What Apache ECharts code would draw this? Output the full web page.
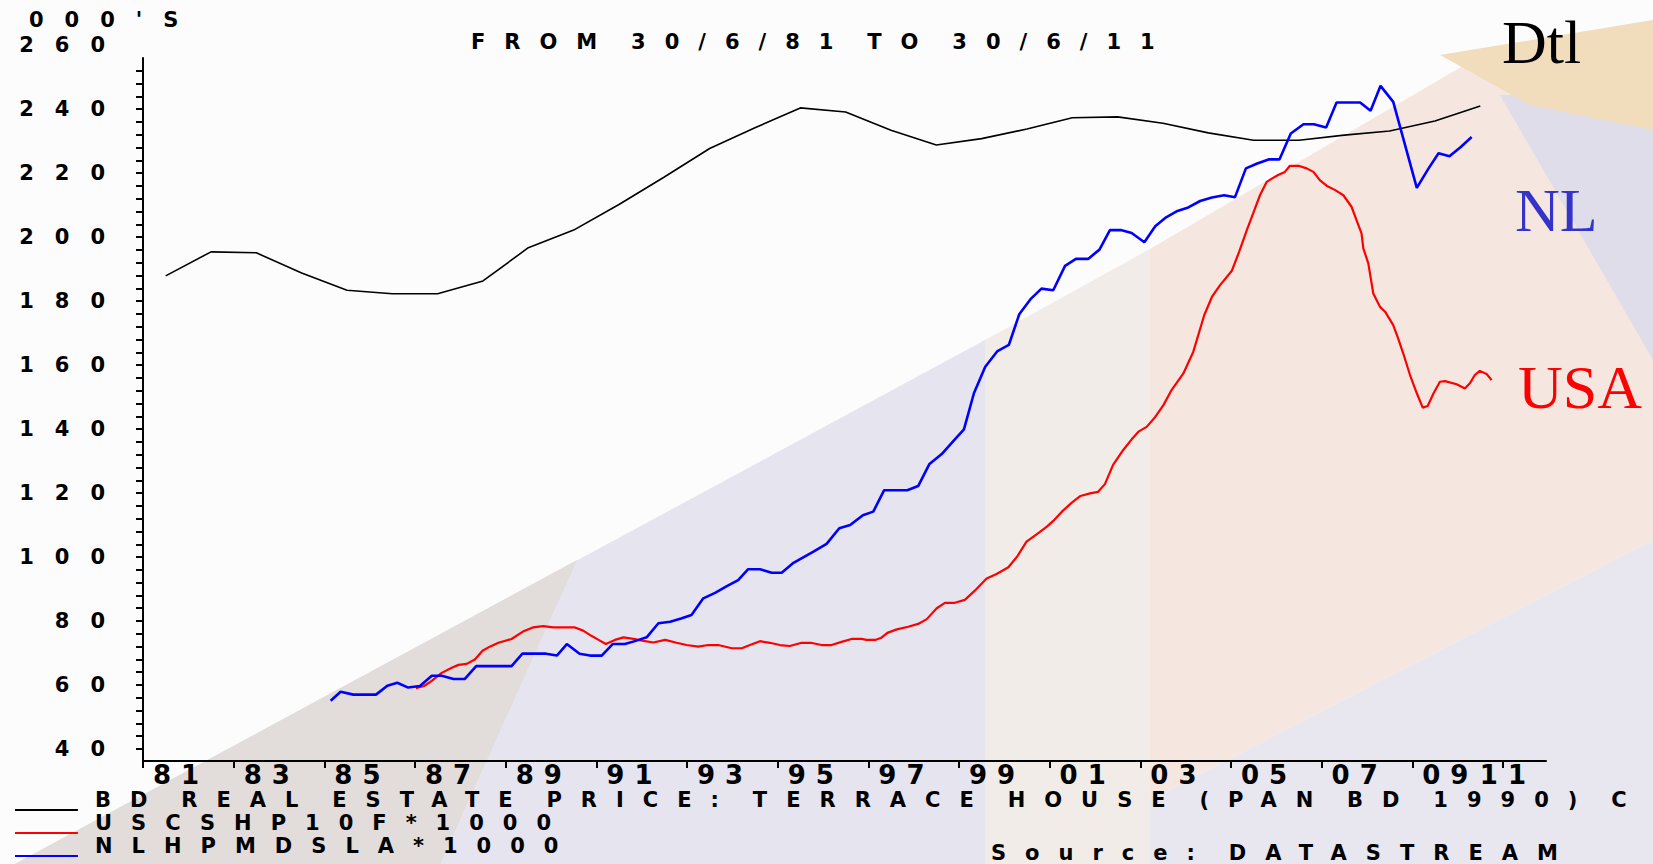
<!DOCTYPE html>
<html>
<head>
<meta charset="utf-8">
<title>Real estate prices BD / USA / NL</title>
<script src="https://cdn.jsdelivr.net/npm/echarts@6/dist/echarts.min.js"></script>
<style>
  html, body { margin: 0; padding: 0; background: #fcfcfc; }
  #chart { width: 1653px; height: 864px; }
  /* datastream style lettering is very wide */
  #chart text[style*="DejaVu"] { letter-spacing: 19px; word-spacing: -11.5px; }
  /* x axis years */
  #chart text[style*="sans-serif"] { letter-spacing: 10px; }
  /* y axis numbers and unit */
  #chart text[style*="Verdana"] { letter-spacing: 21px; }
</style>
</head>
<body>
<div id="chart"></div>
<script>
// BD real estate price, terrace house (annual, mid-year)
const bdYears = [1981.5, 1982.5, 1983.5, 1984.5, 1985.5, 1986.5, 1987.5, 1988.5, 1989.5, 1990.5,
  1991.5, 1992.5, 1993.5, 1994.5, 1995.5, 1996.5, 1997.5, 1998.5, 1999.5, 2000.5,
  2001.5, 2002.5, 2003.5, 2004.5, 2005.5, 2006.5, 2007.5, 2008.5, 2009.5, 2010.5]
const bdValues = [187.9, 195.4, 195.1, 188.8, 183.4, 182.3, 182.3, 186.3, 196.7, 202.2,
  210.2, 218.8, 227.7, 234.2, 240.4, 239.1, 233.4, 228.8, 230.8, 233.8,
  237.3, 237.6, 235.6, 232.6, 230.3, 230.3, 231.9, 233.2, 236.3, 241.0]

// USCSHP10F*1000
const usDates = [1987.02, 1987.20, 1987.37, 1987.59, 1987.81, 1987.96, 1988.14, 1988.32, 1988.49, 1988.65,
  1988.84, 1989.13, 1989.38, 1989.60, 1989.83, 1990.05, 1990.53, 1990.71, 1990.90, 1991.05,
  1991.21, 1991.41, 1991.60, 1991.82, 1992.04, 1992.26, 1992.52, 1992.77, 1992.99, 1993.25,
  1993.47, 1993.69, 1993.99, 1994.21, 1994.39, 1994.61, 1994.83, 1995.05, 1995.27, 1995.53,
  1995.73, 1995.97, 1996.19, 1996.41, 1996.63, 1996.85, 1996.96, 1997.15, 1997.29, 1997.42,
  1997.63, 1997.88, 1998.10, 1998.29, 1998.51, 1998.69, 1998.91, 1999.13, 1999.35, 1999.61,
  1999.83, 2000.09, 2000.29, 2000.49, 2000.72, 2000.94, 2001.08, 2001.27, 2001.49, 2001.68,
  2001.89, 2002.07, 2002.22, 2002.40, 2002.62, 2002.81, 2002.96, 2003.14, 2003.33, 2003.51,
  2003.69, 2003.95, 2004.17, 2004.41, 2004.58, 2004.76, 2005.02, 2005.18, 2005.35, 2005.49,
  2005.64, 2005.79, 2005.90, 2006.04, 2006.19, 2006.30, 2006.49, 2006.67, 2006.82, 2006.96,
  2007.13, 2007.30, 2007.48, 2007.66, 2007.77, 2007.88, 2007.92, 2008.03, 2008.14, 2008.29,
  2008.40, 2008.58, 2008.69, 2008.80, 2008.95, 2009.10, 2009.23, 2009.34, 2009.47, 2009.61,
  2009.72, 2009.98, 2010.16, 2010.27, 2010.38, 2010.49, 2010.64, 2010.75]
const usValues = [59.0, 59.7, 61.3, 63.8, 65.4, 66.3, 66.6, 68.0, 70.7, 72.0,
  73.2, 74.4, 76.7, 78.0, 78.4, 78.0, 78.0, 77.0, 75.3, 74.1,
  72.8, 74.1, 74.9, 74.4, 73.8, 73.3, 74.1, 73.2, 72.5, 72.0,
  72.5, 72.5, 71.5, 71.5, 72.5, 73.7, 73.2, 72.5, 72.2, 73.2,
  73.2, 72.5, 72.5, 73.5, 74.4, 74.4, 74.1, 74.1, 74.8, 76.3,
  77.4, 78.2, 79.1, 80.6, 84.0, 85.7, 85.7, 86.6, 89.5, 93.3,
  94.7, 96.8, 100.3, 104.8, 107.2, 109.5, 111.3, 114.2, 117.0, 119.1,
  119.9, 120.4, 122.8, 128.8, 133.4, 136.8, 139.2, 140.7, 143.8, 147.5,
  152.2, 157.4, 164.2, 175.6, 181.3, 185.0, 189.5, 195.4, 202.2, 207.4,
  213.1, 217.3, 218.3, 219.4, 220.4, 222.3, 222.3, 221.5, 220.4, 217.8,
  215.9, 214.7, 213.1, 209.5, 205.3, 201.2, 196.5, 191.8, 182.4, 178.2,
  176.7, 172.5, 168.3, 163.7, 156.9, 151.2, 146.7, 147.2, 151.2, 154.8,
  155.0, 154.0, 152.7, 154.3, 156.9, 158.2, 157.2, 155.3]

// NLHPMDSLA*1000
const nlDates = [1985.14, 1985.36, 1985.64, 1986.14, 1986.39, 1986.61, 1986.85, 1987.11, 1987.37, 1987.59,
  1987.85, 1988.10, 1988.35, 1989.13, 1989.37, 1989.89, 1990.13, 1990.35, 1990.63, 1990.86,
  1991.12, 1991.36, 1991.63, 1991.87, 1992.11, 1992.37, 1992.63, 1992.87, 1993.10, 1993.36,
  1993.62, 1993.88, 1994.13, 1994.35, 1994.61, 1994.87, 1995.09, 1995.35, 1995.79, 1996.08,
  1996.36, 1996.60, 1996.88, 1997.11, 1997.35, 1997.86, 1998.10, 1998.35, 1998.62, 1998.88,
  1999.11, 1999.33, 1999.58, 1999.85, 2000.10, 2000.33, 2000.59, 2000.82, 2001.08, 2001.34,
  2001.58, 2001.85, 2002.10, 2002.33, 2002.57, 2002.81, 2003.09, 2003.33, 2003.57, 2003.82,
  2004.06, 2004.32, 2004.58, 2004.85, 2005.09, 2005.33, 2005.58, 2005.83, 2006.07, 2006.32,
  2006.60, 2006.83, 2007.10, 2007.33, 2007.85, 2008.08, 2008.30, 2008.58, 2009.10, 2009.36,
  2009.58, 2009.82, 2010.07, 2010.31]
const nlValues = [55.1, 57.9, 57.0, 57.0, 59.8, 60.7, 59.2, 59.7, 62.9, 62.9,
  61.9, 61.9, 65.9, 65.9, 69.8, 69.8, 69.2, 72.8, 69.8, 69.2,
  69.2, 72.8, 72.8, 73.8, 74.9, 79.3, 79.8, 80.8, 81.9, 87.1,
  88.8, 90.9, 92.8, 96.2, 96.2, 95.1, 95.1, 98.2, 101.7, 104.1,
  109.0, 110.0, 113.1, 114.2, 120.9, 120.9, 122.2, 129.1, 132.2, 136.3,
  139.9, 151.2, 159.5, 164.4, 166.3, 175.9, 180.8, 183.9, 183.4, 191.0,
  193.2, 193.2, 196.1, 202.2, 202.2, 201.3, 198.4, 203.4, 206.2, 208.2,
  209.3, 211.3, 212.4, 213.1, 212.5, 221.5, 223.0, 224.3, 224.3, 232.4,
  235.3, 235.3, 234.3, 242.1, 242.1, 239.5, 247.3, 242.3, 215.4, 221.5,
  226.2, 225.3, 228.2, 231.3]

const xTicks = [1981, 1983, 1985, 1987, 1989, 1991, 1993, 1995, 1997, 1999, 2001, 2003, 2005, 2007, 2009, 2011]
// 260 sits above the end of the axis line, the others on their ticks
const yLabels = [40, 60, 80, 100, 120, 140, 160, 180, 200, 220, 240]
const yTopLabel = 260
const yMinorTicks = []
for (let v = 40; v <= 252; v += 4) yMinorTicks.push(v)

const seriesNames = [
  'BD REAL ESTATE PRICE: TERRACE HOUSE (PAN BD 1990) C',
  'USCSHP10F*1000',
  'NLHPMDSLA*1000'
]

const pairs = (xs, ys) => xs.map((x, i) => [x, ys[i]])
const bold = (family, size) => ({ fontFamily: family, fontSize: size, fontWeight: 'bold', color: '#000' })
const dsText = size => bold('DejaVu Sans', size)
const xText = size => bold('DejaVu Sans, sans-serif', size)
const yText = size => bold('DejaVu Sans, Verdana', size)
const tag = (size, color) => ({ fontFamily: 'Liberation Serif', fontSize: size, fontWeight: 'normal', color })
const poly = (points, fill) => ({ type: 'polygon', z: -10, silent: true, shape: { points }, style: { fill } })

const chart = echarts.init(document.getElementById('chart'), null, { renderer: 'svg' })

chart.setOption({
  animation: false,
  backgroundColor: '#fcfcfc',
  graphic: [
    // pastel slide template behind the chart
    poly([[15, 864], [985, 340], [985, 864]], '#e5e4ef'),
    poly([[15, 864], [577, 560], [440, 864]], '#e2dcda'),
    poly([[985, 340], [1150, 249], [1150, 864], [985, 864]], '#f1ece7'),
    poly([[1150, 249], [1473, 60], [1653, 60], [1653, 540], [1150, 800]], '#f5e7e0'),
    poly([[1150, 800], [1653, 540], [1653, 864], [1150, 864]], '#e8e6ef'),
    poly([[1500, 95], [1653, 95], [1653, 360]], '#dedde9'),
    poly([[1440, 55], [1653, 20], [1653, 130], [1530, 105]], '#f1dcbb')
  ],
  title: [
    { text: "000'S", left: 29, top: 9, padding: 0, textStyle: yText(21) },
    { text: 'FROM 30/6/81 TO 30/6/11', left: 471, top: 31, padding: 0, textStyle: dsText(21) },
    { text: 'Source: DATASTREAM', left: 991, top: 842, padding: 0, textStyle: dsText(21) },
    { text: 'Dtl', left: 1502, top: 11, padding: 0, textStyle: tag(62, '#000') },
    { text: 'NL', left: 1515, top: 179, padding: 0, textStyle: tag(62, '#3434c8') },
    { text: 'USA', left: 1518, top: 356, padding: 0, textStyle: tag(62, '#ff0000') }
  ],
  legend: {
    orient: 'vertical',
    left: 15,
    top: 789,
    padding: 0,
    itemWidth: 75,
    itemHeight: 22,
    itemGap: 1,
    icon: 'path://M0,0L0.1,0Z M0,20L63,20L63,22L0,22Z M75,0L75.1,0Z',
    itemStyle: { borderWidth: 0 },
    textStyle: dsText(21),
    data: seriesNames
  },
  grid: { left: 143, right: 107, top: 58, bottom: 103, containLabel: false },
  xAxis: {
    type: 'value',
    min: 1981,
    max: 2011.95,
    splitLine: { show: false },
    axisLine: { lineStyle: { color: '#000', width: 2 } },
    axisTick: { customValues: xTicks, length: 7, lineStyle: { color: '#000', width: 2 } },
    axisLabel: Object.assign({
      customValues: xTicks,
      formatter: v => String(v).slice(2),
      align: 'left',
      alignMaxLabel: 'center',
      padding: [0, 0, 0, 10],
      margin: 1
    }, xText(26))
  },
  yAxis: {
    type: 'value',
    min: 36.25,
    max: 256,
    name: String(yTopLabel),
    nameLocation: 'end',
    nameGap: 13,
    nameTextStyle: Object.assign({ align: 'right', verticalAlign: 'middle', padding: [0, 17, 0, 0] }, yText(21)),
    splitLine: { show: false },
    axisLine: { lineStyle: { color: '#000', width: 2 } },
    axisTick: { customValues: yMinorTicks, length: 7, lineStyle: { color: '#000', width: 2 } },
    axisLabel: Object.assign({
      customValues: yLabels,
      margin: 17
    }, yText(21))
  },
  series: [
    {
      name: seriesNames[0],
      type: 'line',
      data: pairs(bdYears, bdValues),
      showSymbol: false,
      color: '#000',
      lineStyle: { color: '#000', width: 1.6 }
    },
    {
      name: seriesNames[1],
      type: 'line',
      data: pairs(usDates, usValues),
      showSymbol: false,
      color: '#ff0000',
      lineStyle: { color: '#ff0000', width: 2.2 }
    },
    {
      name: seriesNames[2],
      type: 'line',
      data: pairs(nlDates, nlValues),
      showSymbol: false,
      color: '#0000ff',
      lineStyle: { color: '#0000ff', width: 2.6 }
    }
  ]
})
</script>
</body>
</html>
